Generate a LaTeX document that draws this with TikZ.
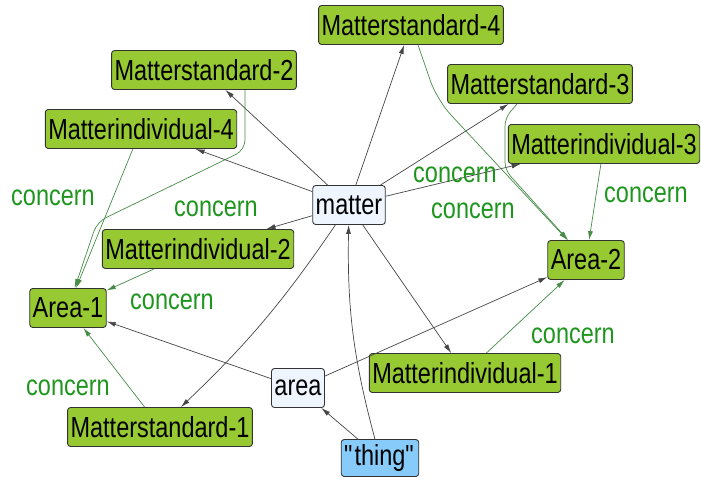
\documentclass[tikz,border=0pt]{standalone}
\usepackage{fontspec}
\setmainfont{Liberation Sans}[FakeStretch=0.81]
\usetikzlibrary{arrows.meta}
\definecolor{indivgreen}{RGB}{150,201,50}
\definecolor{clspale}{RGB}{238,245,255}
\definecolor{litblue}{RGB}{135,203,250}
\definecolor{relgrey}{RGB}{70,70,70}
\definecolor{relgreen}{RGB}{70,140,70}
\definecolor{lblgreen}{RGB}{30,150,30}
\begin{document}
\begin{tikzpicture}[x=1pt, y=-1pt, >={Latex[length=9pt,width=5pt]},
    font=\fontsize{29}{30}\selectfont,
    box/.style={draw=black!80, line width=.9pt, rounded corners=3pt, minimum height=39pt, inner xsep=3pt, inner ysep=0pt},
    indiv/.style={box, fill=indivgreen},
    cls/.style={box, fill=clspale},
    lit/.style={box, fill=litblue, minimum height=37pt},
    rel/.style={->, draw=relgrey, line width=.7pt},
    concern/.style={->, draw=relgreen, line width=.7pt},
    lbl/.style={text=lblgreen, inner sep=0pt}]
    \useasboundingbox (0,0) rectangle (701,479);
    \node[indiv] (ms4) at (411,25) {Matterstandard-4};
    \node[indiv] (ms2) at (204,70) {Matterstandard-2};
    \node[indiv] (ms3) at (540,84) {Matterstandard-3};
    \node[indiv] (mi4) at (141,129) {Matterindividual-4};
    \node[indiv] (mi3) at (604,144) {Matterindividual-3};
    \node[cls] (matter) at (349,205) {matter};
    \node[indiv] (mi2) at (198,249) {Matterindividual-2};
    \node[indiv] (area2) at (586,260) {Area-2};
    \node[indiv] (area1) at (68,308) {Area-1};
    \node[indiv] (mi1) at (465,373) {Matterindividual-1};
    \node[cls] (area) at (298,388) {area};
    \node[indiv] (ms1) at (160,427) {Matterstandard-1};
    \node[lit] (thing) at (380,458) {\textquotedbl thing\textquotedbl};
    \draw[rel] (matter) -- (ms4);
    \draw[rel] (matter) -- (ms2);
    \draw[rel] (matter) -- (ms3);
    \draw[rel] (matter) -- (mi4);
    \draw[rel] (matter) -- (mi3);
    \draw[rel] (matter) -- (mi2);
    \draw[rel] (matter) -- (mi1);
    \draw[rel] (matter) to[bend left=6] (ms1);
    \draw[rel] (thing) to[bend left=8] (matter);
    \draw[rel] (thing) -- (area);
    \draw[rel] (area) -- (area1);
    \draw[rel] (area) -- (area2);
    \coordinate (k1) at (245,150);
    \coordinate (k2) at (97,222);
    \coordinate (k3) at (437,100);
    \coordinate (k4) at (505,118);
    \coordinate (k5) at (505,170);
    \draw[concern] (mi4) -- (area1);
    \draw[concern, rounded corners=10pt] (ms2.south -| k1) -- (k1) -- (k2) -- (area1);
    \draw[concern] (mi2) -- (area1);
    \draw[concern] (ms1) -- (area1);
    \draw[concern] (mi1) -- (area2);
    \draw[concern] (mi3) -- (area2);
    \draw[concern, rounded corners=20pt] ([xshift=7pt]ms4.south) -- (k3) -- (area2);
    \draw[concern, rounded corners=8pt] ([xshift=-23pt]ms3.south) -- (k4) -- (k5) -- (area2);
    \node[lbl] (c1) at (53,198) {concern};
    \node[lbl] (c2) at (216,209) {concern};
    \node[lbl] (c3) at (172,302) {concern};
    \node[lbl] (c4) at (68,388) {concern};
    \node[lbl] (c5) at (573,336) {concern};
    \node[lbl] (c6) at (646,195) {concern};
    \node[lbl] (c7) at (455,175) {concern};
    \node[lbl] (c8) at (473,211) {concern};
\end{tikzpicture}
\end{document}
